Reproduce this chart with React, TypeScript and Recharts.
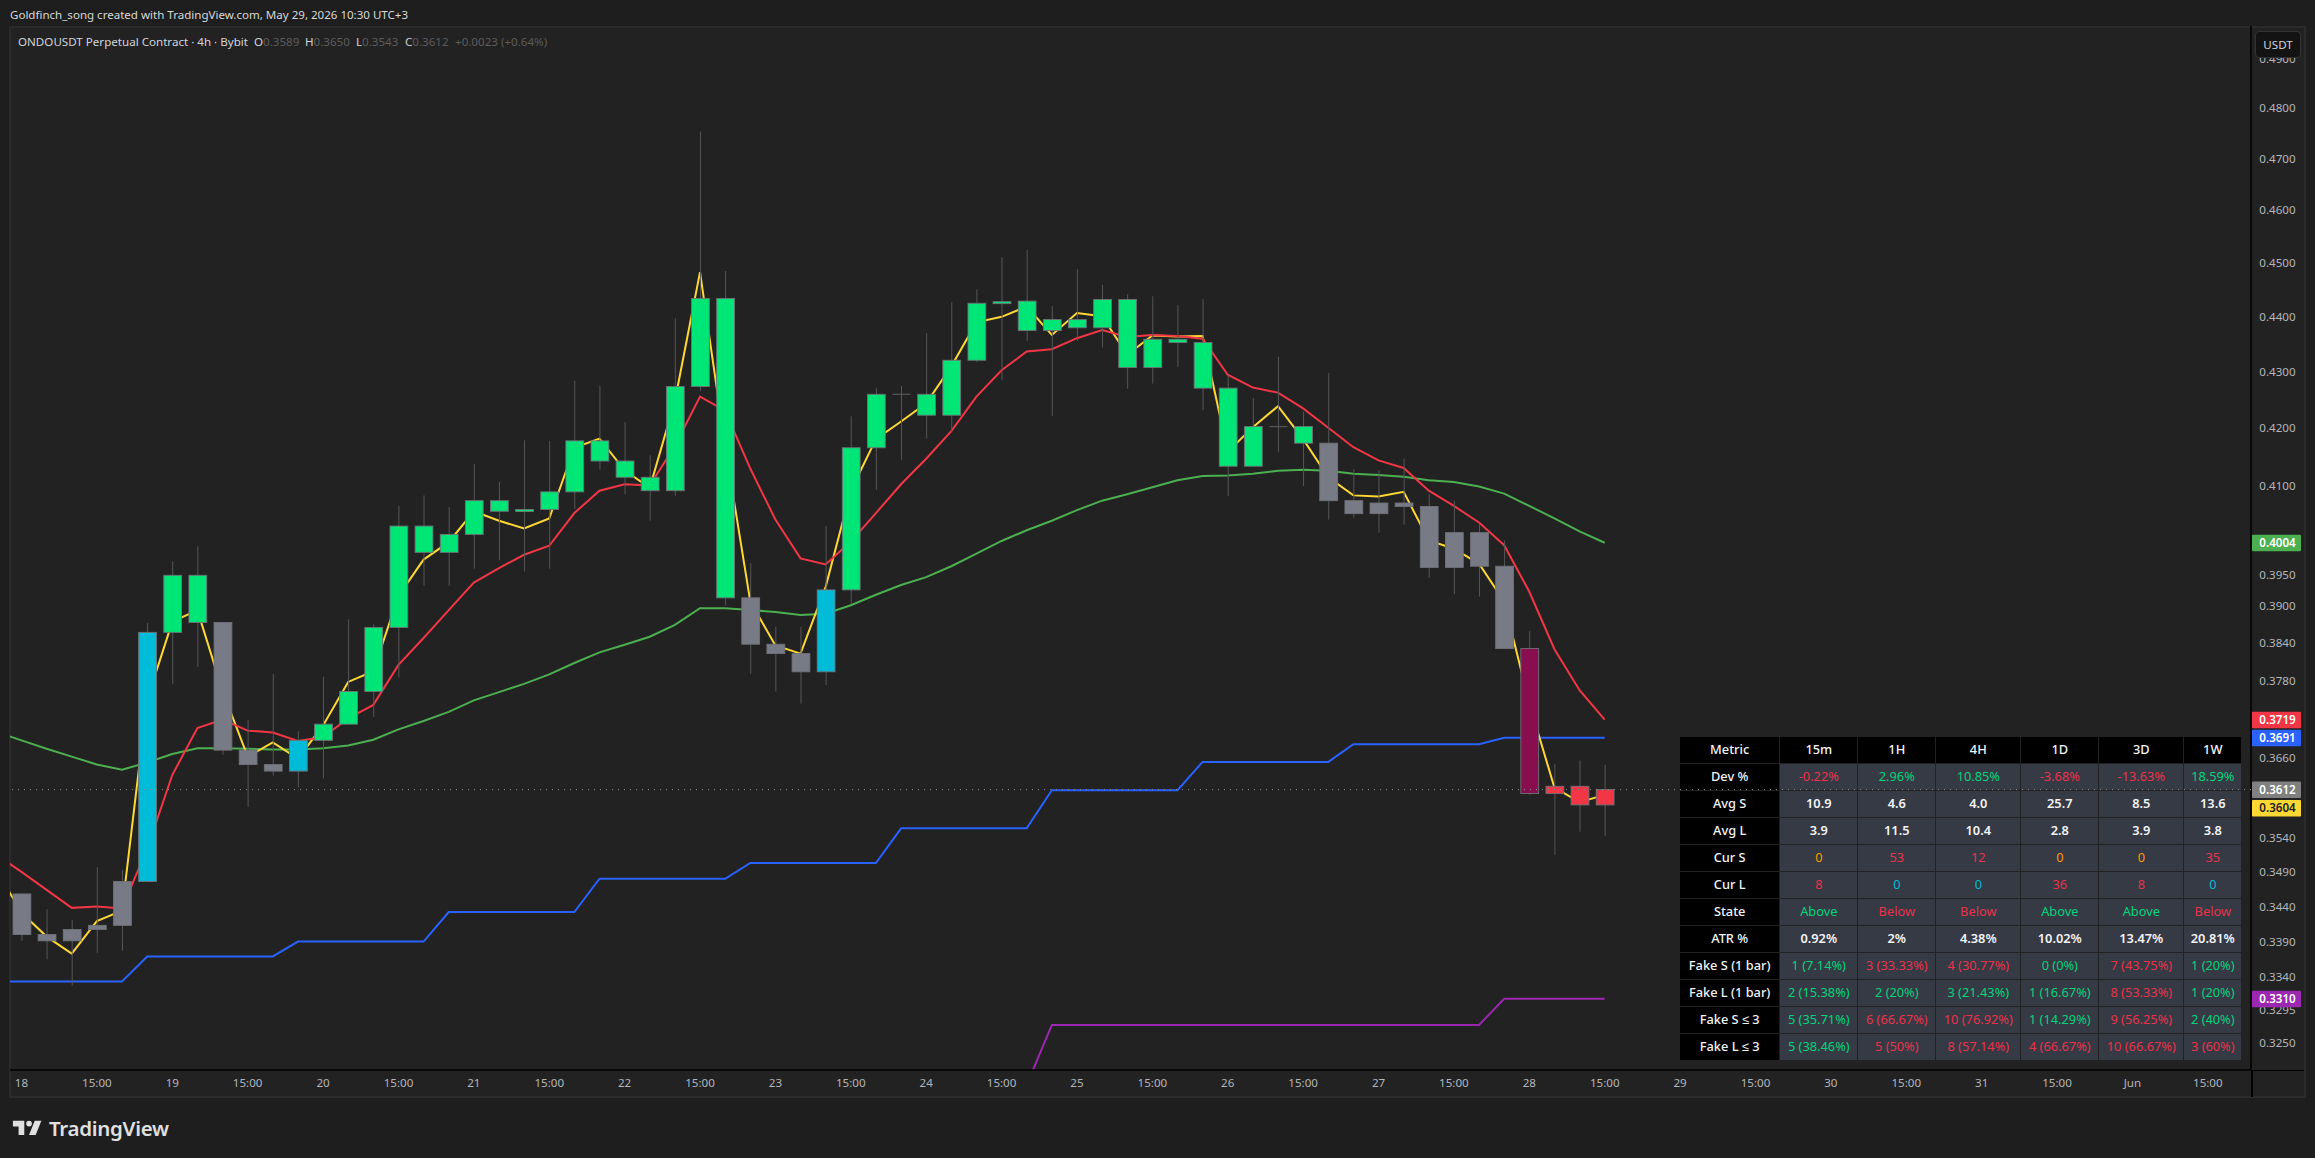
import React from "react";
import { ComposedChart, Bar, Line, XAxis, YAxis, ReferenceLine } from "recharts";

// ---- candles (bar 0 is the first on the 18th, 4h each)
const opens = [0.3458,0.3400,0.3391,0.3407,0.3413,0.3476,0.3857,0.3950,0.3873,0.3672,0.3650,0.3640,0.3687,0.3712,0.3763,0.3865,0.4032,0.3988,0.4018,0.4075,0.4058,0.4060,0.4090,0.4178,0.4143,0.4115,0.4092,0.4274,0.4434,0.3913,0.3838,0.3823,0.3794,0.3926,0.4166,0.4260,0.4260,0.4223,0.4321,0.4426,0.4429,0.4375,0.4395,0.4380,0.4432,0.4308,0.4359,0.4353,0.4271,0.4134,0.4203,0.4203,0.4174,0.4075,0.4053,0.4071,0.4065,0.3963,0.4021,0.3965,0.3831,0.3606,0.3617,0.3589];
const closes = [0.3400,0.3391,0.3407,0.3413,0.3476,0.3857,0.3950,0.3873,0.3672,0.3650,0.3640,0.3687,0.3712,0.3763,0.3865,0.4032,0.3988,0.4018,0.4075,0.4057,0.4060,0.4090,0.4178,0.4143,0.4115,0.4092,0.4274,0.4434,0.3913,0.3838,0.3823,0.3794,0.3926,0.4166,0.4260,0.4260,0.4223,0.4321,0.4425,0.4428,0.4375,0.4395,0.4380,0.4432,0.4308,0.4359,0.4353,0.4271,0.4134,0.4203,0.4203,0.4174,0.4075,0.4053,0.4071,0.4065,0.3963,0.4021,0.3965,0.3831,0.3606,0.3617,0.3589,0.3612];
const highs = [0.3459,0.3436,0.3421,0.3497,0.3493,0.3872,0.3973,0.3998,0.3873,0.3719,0.3791,0.3701,0.3786,0.3878,0.3870,0.4066,0.4084,0.4064,0.4138,0.4107,0.4179,0.4178,0.4284,0.4275,0.4211,0.4153,0.4397,0.4754,0.4485,0.3970,0.3866,0.3866,0.4032,0.4221,0.4271,0.4275,0.4370,0.4427,0.4451,0.4511,0.4525,0.4420,0.4488,0.4459,0.4442,0.4438,0.4422,0.4433,0.4294,0.4253,0.4327,0.4229,0.4298,0.4129,0.4127,0.4147,0.4086,0.4075,0.4036,0.4008,0.3859,0.3651,0.3656,0.3650];
const lows = [0.3391,0.3365,0.3328,0.3374,0.3377,0.3476,0.3775,0.3802,0.3665,0.3586,0.3633,0.3615,0.3629,0.3712,0.3723,0.3785,0.3933,0.3933,0.3961,0.3975,0.3956,0.3961,0.4061,0.4128,0.4086,0.4041,0.4083,0.4266,0.3901,0.3791,0.3763,0.3744,0.3773,0.3904,0.4094,0.4145,0.4182,0.4194,0.4318,0.4285,0.4356,0.4222,0.4356,0.4344,0.4270,0.4279,0.4309,0.4232,0.4083,0.4134,0.4159,0.4100,0.4043,0.4046,0.4021,0.4034,0.3946,0.3919,0.3915,0.3831,0.3604,0.3515,0.3549,0.3543];
// n neutral, c cyan, g green, m maroon, r red, x cross (doji drawn in the wick colour)
const barTones = "nnnnncggnnncggggggggggggggggg".split("").concat("nnncggxggggggggggggggxg".split("")).concat("nnnnnnnnmrrr".split(""));

// ---- indicator lines (first entry is the bar before bar 0, off the left edge)
const yellowLine = [0.3493,0.3431,0.3397,0.3373,0.3419,0.3434,0.3750,0.3874,0.3893,0.3764,0.3662,0.3684,0.3659,0.3710,0.3778,0.3795,0.3916,0.3976,0.4005,0.4057,0.4041,0.4028,0.4045,0.4166,0.4182,0.4127,0.4097,0.4248,0.4483,0.4169,0.3907,0.3836,0.3823,0.3931,0.4092,0.4181,0.4212,0.4244,0.4310,0.4390,0.4400,0.4419,0.4367,0.4407,0.4401,0.4331,0.4366,0.4364,0.4365,0.4159,0.4202,0.4239,0.4181,0.4115,0.4084,0.4082,0.4090,0.4008,0.3994,0.3969,0.3907,0.3744,0.3615,0.3593,0.3604];
const redLine = [0.3515,0.3490,0.3464,0.3438,0.3440,0.3437,0.3524,0.3634,0.3706,0.3719,0.3702,0.3699,0.3686,0.3692,0.3721,0.3742,0.3805,0.3848,0.3893,0.3938,0.3962,0.3984,0.3999,0.4054,0.4092,0.4103,0.4101,0.4169,0.4256,0.4231,0.4130,0.4043,0.3978,0.3968,0.4006,0.4054,0.4103,0.4147,0.4195,0.4256,0.4303,0.4337,0.4341,0.4361,0.4376,0.4363,0.4367,0.4365,0.4360,0.4295,0.4272,0.4263,0.4235,0.4201,0.4167,0.4144,0.4131,0.4092,0.4066,0.4038,0.4000,0.3923,0.3830,0.3765,0.3719];
const greenLine = [0.3700,0.3687,0.3674,0.3662,0.3650,0.3642,0.3653,0.3666,0.3675,0.3675,0.3674,0.3673,0.3673,0.3675,0.3679,0.3688,0.3704,0.3717,0.3731,0.3749,0.3762,0.3775,0.3790,0.3808,0.3825,0.3837,0.3850,0.3869,0.3896,0.3896,0.3893,0.3890,0.3885,0.3887,0.3901,0.3918,0.3934,0.3947,0.3965,0.3986,0.4007,0.4025,0.4041,0.4059,0.4075,0.4086,0.4098,0.4110,0.4117,0.4118,0.4121,0.4126,0.4128,0.4126,0.4121,0.4119,0.4116,0.4110,0.4107,0.4099,0.4087,0.4066,0.4045,0.4023,0.4004];
const blueLine = [0.3334,0.3334,0.3334,0.3334,0.3334,0.3334,0.3369,0.3369,0.3369,0.3369,0.3369,0.3369,0.3390,0.3390,0.3390,0.3390,0.3390,0.3390,0.3432,0.3432,0.3432,0.3432,0.3432,0.3432,0.3480,0.3480,0.3480,0.3480,0.3480,0.3480,0.3503,0.3503,0.3503,0.3503,0.3503,0.3503,0.3554,0.3554,0.3554,0.3554,0.3554,0.3554,0.3611,0.3611,0.3611,0.3611,0.3611,0.3611,0.3654,0.3654,0.3654,0.3654,0.3654,0.3654,0.3681,0.3681,0.3681,0.3681,0.3681,0.3681,0.3691,0.3691,0.3691,0.3691,0.3691];
const purpleFromBar = 40;
const purpleLine = [0.3193,0.3274,0.3274,0.3274,0.3274,0.3274,0.3274,0.3274,0.3274,0.3274,0.3274,0.3274,0.3274,0.3274,0.3274,0.3274,0.3274,0.3274,0.3274,0.3310,0.3310,0.3310,0.3310,0.3310];

// ---- axes
const priceTicks = [0.49,0.48,0.47,0.46,0.45,0.44,0.43,0.42,0.41,0.395,0.39,0.384,0.378,0.366,0.354,0.349,0.344,0.339,0.334,0.3295,0.325];
const priceTags = [0.4004,0.3719,0.3691,0.3612,0.3604,0.331];
const tagColors = ["#4CAF50","#F23645","#2962FF","#808080","#FDD835","#9C27B0"];
const timeLabels = ["18","15:00","19","15:00","20","15:00","21","15:00","22","15:00","23","15:00","24","15:00","25","15:00","26","15:00","27","15:00","28","15:00","29","15:00","30","15:00","31","15:00","Jun","15:00"];
const lastClose = 0.3612;

// ---- table
const tableHead = ["Metric","15m","1H","4H","1D","3D","1W"];
const rowNames = ["Dev %","Avg S","Avg L","Cur S","Cur L","State","ATR %","Fake S (1 bar)","Fake L (1 bar)","Fake S ≤ 3","Fake L ≤ 3"];
const rowValues = [
  ["-0.22%","2.96%","10.85%","-3.68%","-13.63%","18.59%"],
  ["10.9","4.6","4.0","25.7","8.5","13.6"],
  ["3.9","11.5","10.4","2.8","3.9","3.8"],
  ["0","53","12","0","0","35"],
  ["8","0","0","36","8","0"],
  ["Above","Below","Below","Above","Above","Below"],
  ["0.92%","2%","4.38%","10.02%","13.47%","20.81%"],
  ["1 (7.14%)","3 (33.33%)","4 (30.77%)","0 (0%)","7 (43.75%)","1 (20%)"],
  ["2 (15.38%)","2 (20%)","3 (21.43%)","1 (16.67%)","8 (53.33%)","1 (20%)"],
  ["5 (35.71%)","6 (66.67%)","10 (76.92%)","1 (14.29%)","9 (56.25%)","2 (40%)"],
  ["5 (38.46%)","5 (50%)","8 (57.14%)","4 (66.67%)","10 (66.67%)","3 (60%)"],
];
const rowTones = ["rggrrg","wwwwww","wwwwww","orroor","rccrrc","grrggr","wwwwww","grrgrg","ggggrg","grrgrg","grrrrr"];

const chartData = yellowLine.map((_, k) => {
  const i = k - 1;
  const hasCandle = i >= 0;
  return {
    bar: i,
    range: hasCandle ? [lows[i], highs[i]] : null,
    open: hasCandle ? opens[i] : null,
    close: hasCandle ? closes[i] : null,
    tone: hasCandle ? barTones[i] : null,
    yellow: yellowLine[k],
    red: redLine[k],
    green: greenLine[k],
    blue: blueLine[k],
    purple: i >= purpleFromBar ? purpleLine[i - purpleFromBar] : null,
  };
});

const FONT = "'Noto Sans', sans-serif";
const BODY: Record<string, string> = { n: "#787B86", c: "#00BCD9", g: "#00E676", m: "#880E4F", r: "#F23645" };
const WICK = "#565656";
const EDGE = "#6f7278";
const TXT: Record<string, string> = { r: "#E8334A", g: "#00D47A", o: "#FF9800", c: "#00BCD4", w: "#F2F3F5" };

function Candle(props: any) {
  const { x, y, width, height, payload } = props;
  if (!payload || payload.range == null || height == null) return null;
  const [lo, hi] = payload.range;
  const at = (v: number) => y + (height * Math.log(hi / v)) / Math.log(hi / lo);
  const cx = x + width / 2;
  const top = at(Math.max(payload.open, payload.close));
  const bottom = at(Math.min(payload.open, payload.close));
  return (
    <g>
      <line x1={cx} x2={cx} y1={y} y2={y + height} stroke={WICK} strokeWidth={1} />
      {payload.tone === "x" ? (
        <line x1={cx - 9} x2={cx + 9} y1={top} y2={top} stroke={WICK} strokeWidth={1.2} />
      ) : (
        <rect x={cx - 8.9} width={17.8} y={top} height={Math.max(bottom - top, 2)} fill={BODY[payload.tone]} stroke={EDGE} strokeWidth={0.9} />
      )}
    </g>
  );
}

function PriceTick(props: any) {
  const { x, y, payload } = props;
  const v = payload.value;
  const t = priceTags.indexOf(v);
  if (t < 0) {
    return (
      <text x={x + 26.5} y={y} dy="0.35em" textAnchor="middle" fontFamily={FONT} fontSize={11.6} fill="#B4B6BC">
        {v.toFixed(4)}
      </text>
    );
  }
  const shift = v === 0.3604 ? 13 : 0;
  return (
    <g transform={`translate(0 ${shift})`}>
      <rect x={x + 1} y={y - 8} width={49} height={16.5} fill={tagColors[t]} rx={1} />
      <text x={x + 26.5} y={y} dy="0.35em" textAnchor="middle" fontFamily={FONT} fontSize={11.6} fontWeight={600} fill={v === 0.3604 ? "#222" : "#FFFFFF"}>
        {v.toFixed(4)}
      </text>
    </g>
  );
}

function TimeTick(props: any) {
  const { x, y, payload } = props;
  return (
    <text x={x} y={y + 13.3} dy="0.35em" textAnchor="middle" fontFamily={FONT} fontSize={11.6} fill="#B4B6BC">
      {timeLabels[payload.value / 3]}
    </text>
  );
}

const abs = (left: number, top: number, extra: React.CSSProperties = {}): React.CSSProperties => ({ position: "absolute", left, top, whiteSpace: "nowrap", ...extra });

function OhlcPair({ left, k, v }: { left: number; k: string; v: string }) {
  return (
    <span style={abs(left, 33, { fontSize: 11.6, lineHeight: "17px", color: "#5c5c5c" })}>
      <span style={{ color: "#D1D4DC" }}>{k}</span>
      {v}
    </span>
  );
}

function StatsTable() {
  const cols = "99.3px 77px 77px 84px 77px 84px 57px";
  const cell = (bg: string, color: string, weight: number): React.CSSProperties => ({ background: bg, color, fontWeight: weight, display: "flex", alignItems: "center", justifyContent: "center", whiteSpace: "nowrap", paddingBottom: 1, boxSizing: "border-box" });
  return (
    <div style={{ position: "absolute", left: 1680, top: 736.7, display: "grid", gridTemplateColumns: cols, gridAutoRows: "26px", gap: 1, fontFamily: FONT, fontSize: 12.8 }}>
      {tableHead.map((h) => (
        <div key={h} style={cell("#000", "#F2F3F5", 500)}>{h}</div>
      ))}
      {rowNames.map((name, r) => (
        <React.Fragment key={name}>
          <div style={cell("#000", "#F2F3F5", 500)}>{name}</div>
          {rowValues[r].map((val, c) => {
            const tone = rowTones[r][c];
            return (
              <div key={c} style={cell("#363A45", TXT[tone], tone === "w" ? 600 : 400)}>{val}</div>
            );
          })}
        </React.Fragment>
      ))}
    </div>
  );
}

export default function App() {
  const barTicks = timeLabels.map((_, i) => i * 3);
  const lineProps: any = { type: "linear", strokeWidth: 2, dot: false, activeDot: false, isAnimationActive: false, zIndex: 250 };
  return (
    <div style={{ position: "absolute", left: 0, top: 0, width: 2315, height: 1158, background: "#1E1E1E", overflow: "hidden", fontFamily: FONT, color: "#D1D4DC" }}>
      <div style={{ position: "absolute", left: 9, top: 26, width: 2293, height: 1068, background: "#222222", border: "2px solid #2B2B2B" }} />
      <span style={abs(10, 6, { fontSize: 11.55, lineHeight: "18px", color: "#D8D8D8" })}>Goldfinch_song created with TradingView.com, May 29, 2026 10:30 UTC+3</span>
      <span style={abs(18, 33, { fontSize: 11.6, lineHeight: "17px", color: "#D1D4DC" })}>ONDOUSDT Perpetual Contract · 4h · Bybit</span>
      <OhlcPair left={254} k="O" v="0.3589" />
      <OhlcPair left={305} k="H" v="0.3650" />
      <OhlcPair left={356} k="L" v="0.3543" />
      <OhlcPair left={405} k="C" v="0.3612" />
      <span style={abs(455, 33, { fontSize: 11.6, lineHeight: "17px", color: "#5c5c5c" })}>+0.0023 (+0.64%)</span>
      <StatsTable />
      <div style={{ position: "absolute", left: 0, top: 0 }}>
        <ComposedChart width={2315} height={1158} data={chartData} margin={{ top: 26, right: 10, bottom: 61, left: 10 }}>
          <XAxis dataKey="bar" type="number" domain={[-0.4576, 88.718]} allowDataOverflow ticks={barTicks} interval={0} height={27} tickSize={0} tickMargin={0} tickLine={false} axisLine={{ stroke: "#000", strokeWidth: 1.5 }} tick={<TimeTick />} />
          <YAxis orientation="right" scale="log" domain={[0.3213, 0.4968]} allowDataOverflow ticks={[...priceTicks, ...priceTags]} interval={0} width={54} tickSize={0} tickMargin={0} tickLine={false} axisLine={{ stroke: "#000", strokeWidth: 1.5 }} tick={<PriceTick />} />
          <Line {...lineProps} dataKey="purple" stroke="#9C27B0" />
          <Line {...lineProps} dataKey="blue" stroke="#2962FF" />
          <Line {...lineProps} dataKey="green" stroke="#4CAF50" />
          <Line {...lineProps} dataKey="yellow" stroke="#FDD835" />
          <Line {...lineProps} dataKey="red" stroke="#F23645" />
          <Bar dataKey="range" barSize={18} shape={<Candle />} isAnimationActive={false} zIndex={300} />
          <ReferenceLine y={lastClose} stroke="#8a8a8a" strokeDasharray="1 5" strokeWidth={1} zIndex={600} />
        </ComposedChart>
      </div>
      <div style={{ position: "absolute", left: 2251, top: 1070, width: 1.5, height: 27, background: "#000" }} />
      <div style={{ position: "absolute", left: 2251, top: 1069.5, width: 53, height: 1.5, background: "#000" }} />
      <div style={{ position: "absolute", left: 2255, top: 31, width: 44, height: 25, background: "#131313", border: "1px solid #333", borderRadius: 4, fontSize: 11.6, lineHeight: "25px", textAlign: "center", color: "#D1D4DC" }}>USDT</div>
      <svg style={{ position: "absolute", left: 10.7, top: 1115 }} width={34.2} height={26.6} viewBox="0 0 36 28">
        <path fill="#E0E0E0" d="M14 6H2v6h6v9h6V6zm12 15h-7l6-15h7l-6 15zm-7-9a3 3 0 1 0 0-6 3 3 0 0 0 0 6z" />
      </svg>
      <span style={abs(49, 1113, { fontSize: 20.5, lineHeight: "30px", fontWeight: 600, color: "#E0E0E0", letterSpacing: -0.3 })}>TradingView</span>
    </div>
  );
}
